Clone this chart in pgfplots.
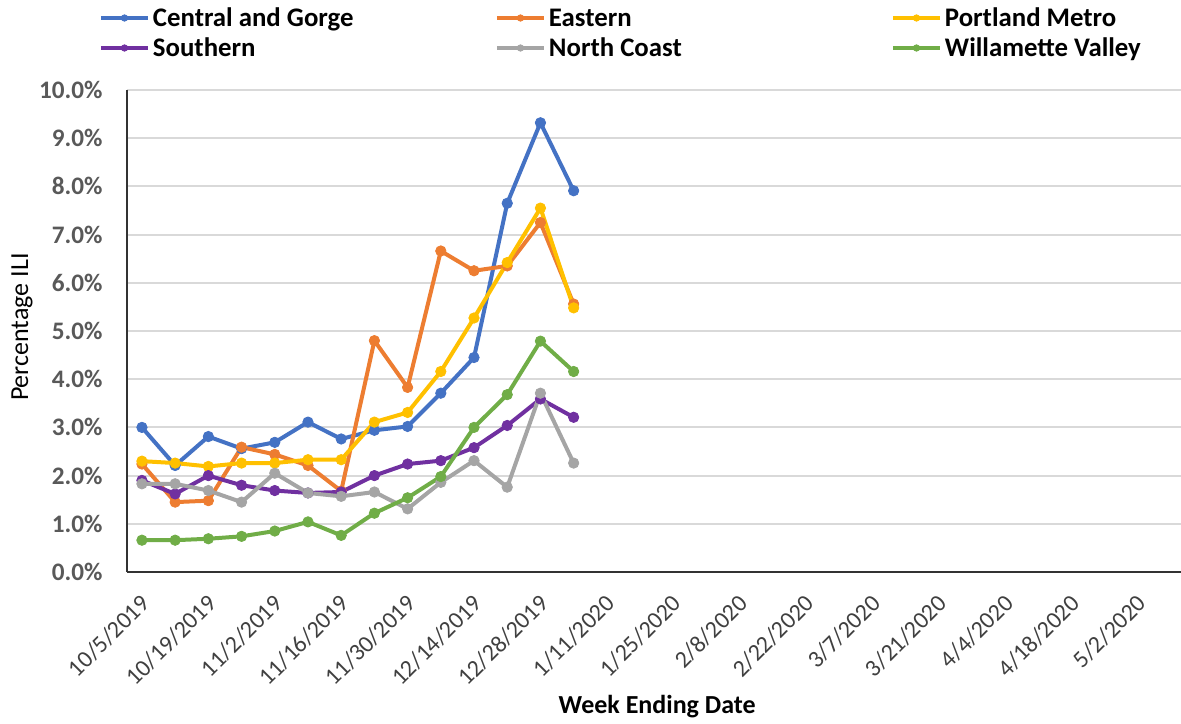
\documentclass[border=0pt]{standalone}
\usepackage{pgfplots}
\usepackage{pgfplotstable}
\pgfplotsset{compat=1.18}
\usepackage{fontspec}
\setmainfont{Carlito}

\definecolor{cgblue}{HTML}{4472C4}
\definecolor{eastorange}{HTML}{ED7D31}
\definecolor{pdxyellow}{HTML}{FFC000}
\definecolor{southpurple}{HTML}{7030A0}
\definecolor{coastgray}{HTML}{A5A5A5}
\definecolor{wvgreen}{HTML}{70AD47}
\definecolor{gridgray}{HTML}{D9D9D9}
\definecolor{ytickgray}{HTML}{595959}
\definecolor{xtickgray}{HTML}{404040}

% week index (0 = 10/5/2019), percent ILI by region
\pgfplotstableread{
wk  central eastern portland southern coast willamette
0   3.00    2.24    2.30     1.90     1.83  0.66
1   2.21    1.45    2.26     1.62     1.83  0.66
2   2.81    1.48    2.19     2.00     1.69  0.69
3   2.56    2.59    2.26     1.80     1.45  0.74
4   2.69    2.44    2.26     1.69     2.05  0.85
5   3.11    2.21    2.33     1.64     1.64  1.04
6   2.76    1.68    2.33     1.66     1.57  0.76
7   2.94    4.80    3.11     2.00     1.66  1.22
8   3.02    3.83    3.31     2.24     1.31  1.54
9   3.71    6.66    4.16     2.31     1.86  1.98
10  4.45    6.25    5.27     2.58     2.31  3.00
11  7.65    6.35    6.42     3.04     1.76  3.68
12  9.32    7.25    7.55     3.59     3.71  4.79
13  7.91    5.56    5.48     3.21     2.26  4.16
}\iliweeks

\begin{document}
\begin{tikzpicture}
\begin{axis}[
    at={(0,0)}, anchor=south west,
    scale only axis,
    width=527pt, height=241pt,
    xmin=-0.45, xmax=31.29,
    ymin=0, ymax=10,
    axis x line=bottom, axis y line=left,
    axis line style={-, line width=0.8pt, color=black!80},
    major tick length=0pt,
    xtick={0,2,...,30},
    xticklabels={10/5/2019,10/19/2019,11/2/2019,11/16/2019,11/30/2019,12/14/2019,12/28/2019,1/11/2020,1/25/2020,2/8/2020,2/22/2020,3/7/2020,3/21/2020,4/4/2020,4/18/2020,5/2/2020},
    ytick={0,1,...,10},
    yticklabels={0.0\%,1.0\%,2.0\%,3.0\%,4.0\%,5.0\%,6.0\%,7.0\%,8.0\%,9.0\%,10.0\%},
    ymajorgrids,
    grid style={line width=1pt, color=gridgray},
    xticklabel style={font=\fontsize{12}{14}\selectfont, color=xtickgray, inner sep=0pt,
        xshift=2pt, yshift=-13.5pt, rotate=45, anchor=east},
    yticklabel style={font=\fontsize{12.6}{14}\selectfont\bfseries, color=ytickgray,
        inner sep=0pt, xshift=-12pt, anchor=east},
    xlabel={Week Ending Date},
    xlabel style={font=\fontsize{13}{15}\selectfont\bfseries, at={(axis description cs:0.503,-0.280)}, anchor=center},
    ylabel={Percentage ILI},
    ylabel style={font=\fontsize{13}{15}\selectfont, at={(axis description cs:-0.0996,0.508)}, anchor=center},
    every axis plot/.append style={line width=2pt, line join=round, mark=*, mark size=2.6pt,
        mark options={solid, line width=0.4pt}},
    legend columns=3,
    legend cell align=left,
    legend image code/.code={
        \draw[mark repeat=2, mark phase=2, mark size=1.6pt] plot coordinates {(0pt,0pt) (11.75pt,0pt) (23.5pt,0pt)};
    },
    legend style={at={(axis description cs:-0.0266,1.1743)}, anchor=north west,
        draw=none, fill=none, inner sep=0pt, outer sep=0pt, row sep=3pt,
        nodes={inner sep=0pt, font=\fontsize{13.4}{15}\selectfont\bfseries},
        /tikz/every odd column/.append style={column sep=1.5pt},
        /tikz/every even column/.append style={column sep=0pt}},
]
\addplot[color=cgblue] table[x=wk, y=central] {\iliweeks};
\addlegendentry{\makebox[171pt][l]{\strut Central and Gorge}}
\addplot[color=eastorange] table[x=wk, y=eastern] {\iliweeks};
\addlegendentry{\makebox[171pt][l]{\strut Eastern}}
\addplot[color=pdxyellow] table[x=wk, y=portland] {\iliweeks};
\addlegendentry{\makebox[171pt][l]{\strut Portland Metro}}
\addplot[color=southpurple] table[x=wk, y=southern] {\iliweeks};
\addlegendentry{\makebox[171pt][l]{\strut Southern}}
\addplot[color=coastgray] table[x=wk, y=coast] {\iliweeks};
\addlegendentry{\makebox[171pt][l]{\strut North Coast}}
\addplot[color=wvgreen] table[x=wk, y=willamette] {\iliweeks};
\addlegendentry{\makebox[171pt][l]{\strut Willamette Valley}}
\end{axis}
\pgfresetboundingbox
\useasboundingbox (-63.5pt,-75.5pt) rectangle (527pt,286pt);
\end{tikzpicture}
\end{document}
